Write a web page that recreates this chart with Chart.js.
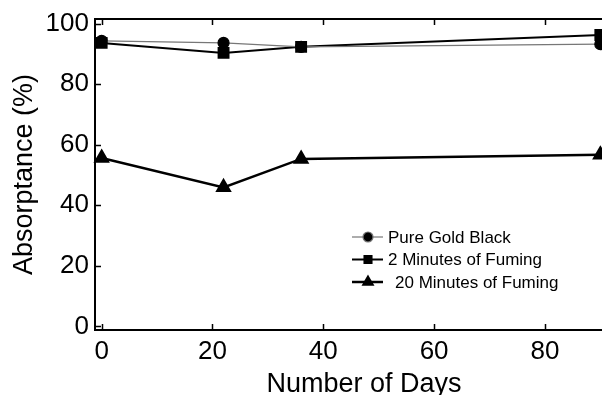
<!DOCTYPE html>
<html>
<head>
<meta charset="utf-8">
<script src="https://cdn.jsdelivr.net/npm/chart.js@4/dist/chart.umd.min.js"></script>
<style>
  html, body { margin: 0; padding: 0; background: #fff; }
  #wrap { width: 602px; height: 395px; }
</style>
</head>
<body>
<div id="wrap"><canvas id="chart" width="602" height="395"></canvas></div>
<script>
// data
const days = [0, 22, 36, 90];
const pureGold = [94.3, 93.6, 92.3, 93.2];
const twoMin = [93.6, 90.3, 92.3, 96.2];
const twentyMin = [55.6, 45.9, 55.3, 56.7];
const xTicks = [0, 20, 40, 60, 80];
const yTicks = [0, 20, 40, 60, 80, 100];
const xTitle = 'Number of Days';

const FONT = "'Liberation Sans', Arial, sans-serif";

function pts(vals) {
  return days.map((d, i) => ({ x: d, y: vals[i] }));
}

// box frame + inward ticks + x title (sits a bit right of the axis centre)
const framePlugin = {
  id: 'frame',
  afterDatasetsDraw(chart) {
    const { ctx, chartArea: a, scales } = chart;
    ctx.save();
    ctx.strokeStyle = '#000';
    ctx.lineWidth = 2;
    ctx.strokeRect(a.left, a.top, a.right - a.left + 4, a.bottom - a.top);
    ctx.lineWidth = 1.5;
    ctx.beginPath();
    xTicks.forEach(v => {
      const x = Math.round(scales.x.getPixelForValue(v)) + 0.5;
      ctx.moveTo(x, a.bottom); ctx.lineTo(x, a.bottom - 6);
      ctx.moveTo(x, a.top); ctx.lineTo(x, a.top + 6);
    });
    yTicks.forEach(v => {
      const y = Math.round(scales.y.getPixelForValue(v)) + 0.5;
      ctx.moveTo(a.left, y); ctx.lineTo(a.left + 6, y);
    });
    ctx.stroke();

    ctx.fillStyle = '#000';
    ctx.font = '27px ' + FONT;
    ctx.textAlign = 'center';
    ctx.textBaseline = 'alphabetic';
    ctx.fillText(xTitle, 364, 392);
    ctx.restore();
  }
};

// legend drawn inside the plot, marker on a short line
const legendPlugin = {
  id: 'boxLegend',
  afterDraw(chart) {
    const { ctx } = chart;
    const x0 = 352, y0 = 237, rowH = 22.5;
    ctx.save();
    ctx.font = '17px ' + FONT;
    ctx.textBaseline = 'middle';
    chart.data.datasets.forEach((ds, i) => {
      const y = y0 + i * rowH;
      ctx.strokeStyle = ds.borderColor;
      ctx.lineWidth = ds.borderWidth;
      ctx.beginPath();
      ctx.moveTo(x0, y); ctx.lineTo(x0 + 31, y);
      ctx.stroke();
      Chart.helpers.drawPoint(ctx, {
        pointStyle: ds.pointStyle, radius: 5, borderWidth: 1
      }, x0 + 16, y);
      ctx.fillStyle = '#000';
      ctx.fillText(ds.label, x0 + 36 + (i === 2 ? 7 : 0), y + 1);
    });
    ctx.restore();
  }
};

new Chart(document.getElementById('chart'), {
  type: 'line',
  data: {
    datasets: [
      {
        label: 'Pure Gold Black',
        data: pts(pureGold),
        borderColor: '#777',
        borderWidth: 1.2,
        pointStyle: 'circle',
        pointRadius: 5.5,
        pointBackgroundColor: '#000',
        pointBorderColor: '#000',
        clip: false
      },
      {
        label: '2 Minutes of Fuming',
        data: pts(twoMin),
        borderColor: '#000',
        borderWidth: 2,
        pointStyle: 'rect',
        pointRadius: 7,
        pointBackgroundColor: '#000',
        pointBorderColor: '#000',
        clip: false
      },
      {
        label: '20 Minutes of Fuming',
        data: pts(twentyMin),
        borderColor: '#000',
        borderWidth: 2.5,
        pointStyle: 'triangle',
        pointRadius: 7,
        pointBackgroundColor: '#000',
        pointBorderColor: '#000',
        clip: false
      }
    ]
  },
  options: {
    responsive: false,
    animation: false,
    layout: { autoPadding: false, padding: { top: 17, right: 0, left: 0, bottom: 0 } },
    plugins: {
      legend: { display: false },
      tooltip: { enabled: false }
    },
    scales: {
      x: {
        type: 'linear',
        min: -1.2,
        max: 90.3,
        afterBuildTicks: s => { s.ticks = xTicks.map(v => ({ value: v })); },
        afterFit: s => { s.height = 65; },
        grid: { display: false, drawTicks: false },
        border: { display: false },
        ticks: {
          color: '#000',
          font: { family: FONT, size: 26, lineHeight: 1 },
          padding: 9,
          maxRotation: 0
        },
        title: { display: false }
      },
      y: {
        min: -1.2,
        max: 101.5,
        afterBuildTicks: s => { s.ticks = yTicks.map(v => ({ value: v })); },
        afterFit: s => { s.width = 95; },
        grid: { display: false, drawTicks: false },
        border: { display: false },
        ticks: {
          color: '#000',
          font: { family: FONT, size: 26, lineHeight: 1 },
          padding: 6
        },
        title: {
          display: true,
          text: 'Absorptance (%)',
          color: '#000',
          font: { family: FONT, size: 27 },
          padding: { top: 8, bottom: 0 }
        }
      }
    }
  },
  plugins: [framePlugin, legendPlugin]
});
</script>
</body>
</html>
